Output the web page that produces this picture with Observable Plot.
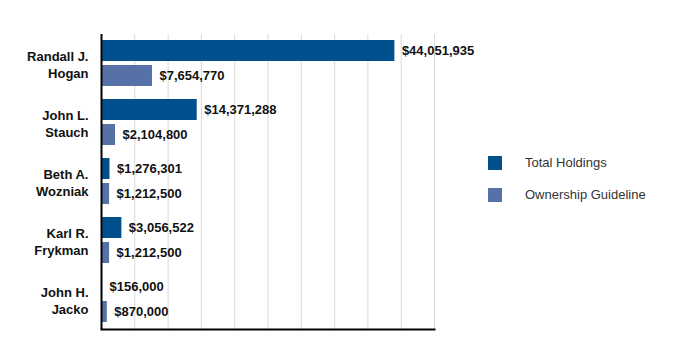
<!DOCTYPE html>
<html>
<head>
<meta charset="utf-8">
<script src="https://cdn.jsdelivr.net/npm/d3@7"></script>
<script src="https://cdn.jsdelivr.net/npm/@observablehq/plot@0.6"></script>
<style>
  html, body { margin: 0; padding: 0; background: #fff; }
  #wrap { position: relative; width: 688px; height: 356px; font-family: "Liberation Sans", Arial, sans-serif; }
  .legend { position: absolute; left: 488px; font-size: 13px; color: #333; }
  .legend .item { position: absolute; left: 0; display: flex; align-items: center; white-space: nowrap; }
  .legend .sw { width: 14px; height: 14px; margin-right: 23px; }
</style>
</head>
<body>
<div id="wrap"></div>
<script>
const names = ["Randall J. Hogan", "John L. Stauch", "Beth A. Wozniak", "Karl R. Frykman", "John H. Jacko"];
const series = ["Total Holdings", "Ownership Guideline"];
const totalHoldings = [44051935, 14371288, 1276301, 3056522, 156000];
const ownershipGuideline = [7654770, 2104800, 1212500, 1212500, 870000];
const colors = ["#00508d", "#5670a8"];
const gridTicks = [5e6, 10e6, 15e6, 20e6, 25e6, 30e6, 35e6, 40e6, 45e6, 50e6];

const rows = [];
names.forEach((n, i) => {
  rows.push({name: n, series: series[0], value: totalHoldings[i]});
  rows.push({name: n, series: series[1], value: ownershipGuideline[i]});
});

const fmt = d3.format(",");

const chart = Plot.plot({
  width: 688,
  height: 356,
  marginLeft: 101,
  marginRight: 254,
  marginTop: 33,
  marginBottom: 27,
  style: {fontFamily: "'Liberation Sans', Arial, sans-serif", background: "#fff"},
  x: {domain: [0, 50e6], axis: null},
  y: {domain: series, axis: null, paddingInner: 0.156, paddingOuter: 0.23},
  fy: {domain: names, padding: 0, label: null},
  color: {domain: series, range: colors},
  marks: [
    Plot.ruleX(gridTicks, {stroke: "#d9d9d9", strokeWidth: 1}),
    Plot.barX(rows, {x: "value", y: "series", fy: "name", fill: "series"}),
    Plot.text(rows, {x: "value", y: "series", fy: "name", text: d => "$" + fmt(d.value),
      textAnchor: "start", dx: 7, fontSize: 13, fontWeight: "bold", fill: "#111"}),
    Plot.ruleX([0], {stroke: "#000", strokeWidth: 2}),
    Plot.frame({anchor: "bottom", facetAnchor: "bottom", stroke: "#000", strokeWidth: 2}),
    Plot.axisFy({anchor: "left", tickSize: 0, tickPadding: 13, label: null, fontSize: 13,
      fontWeight: "bold", fill: "#111", lineHeight: 1.27,
      tickFormat: d => d.replace(/ (\S+)$/, "\n$1")})
  ]
});

const wrap = document.getElementById("wrap");
wrap.appendChild(chart);

const legend = document.createElement("div");
legend.className = "legend";
legend.style.top = "0px";
const tops = [155, 187];
series.forEach((s, i) => {
  const item = document.createElement("div");
  item.className = "item";
  item.style.top = tops[i] + "px";
  const sw = document.createElement("span");
  sw.className = "sw";
  sw.style.background = colors[i];
  const label = document.createElement("span");
  label.textContent = s;
  item.appendChild(sw);
  item.appendChild(label);
  legend.appendChild(item);
});
wrap.appendChild(legend);
</script>
</body>
</html>
